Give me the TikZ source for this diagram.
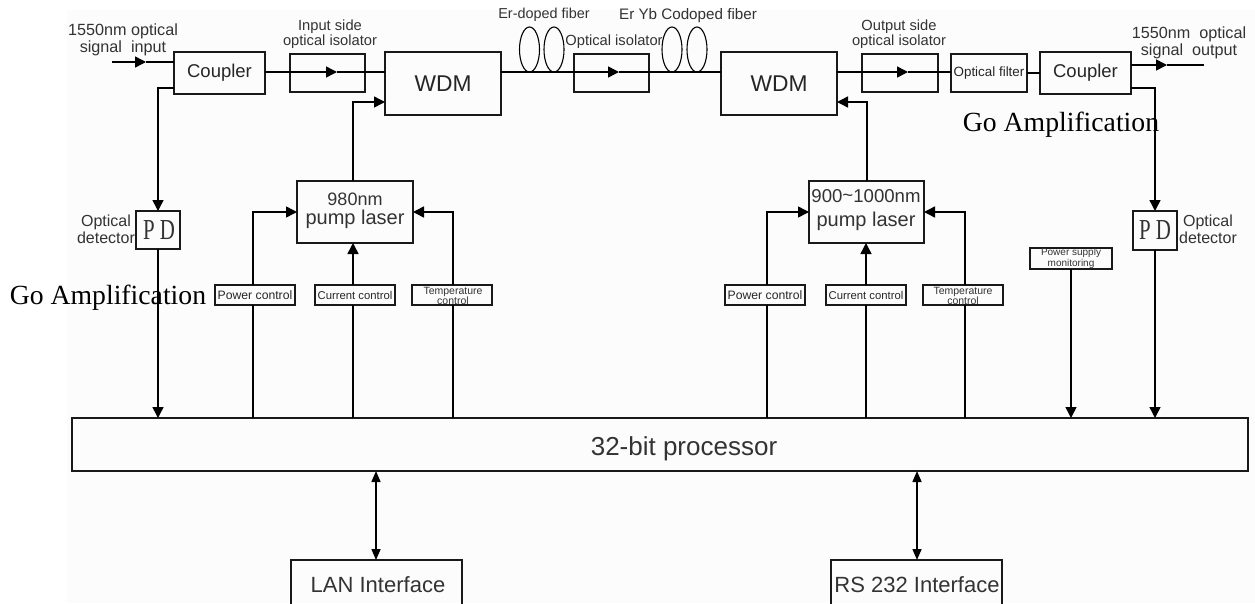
\documentclass[tikz,border=0pt]{standalone}
\usepackage{fontspec}
\setmainfont{Liberation Sans}
\newfontfamily\serifF{Liberation Serif}
\usetikzlibrary{arrows.meta,shapes.geometric}
\newcommand\sz[2]{\fontsize{#1}{#2}\selectfont}
\tikzset{
  box/.style={draw=black!90,line width=1.5pt,inner sep=0pt,outer sep=0pt,align=center,text=black!85},
  lab/.style={inner sep=0pt,outer sep=0pt,align=center,text=black!80},
  link/.style={draw=black,line width=1.5pt},
  arr/.style={link,-{Triangle[length=11pt,width=11pt]}},
  darr/.style={link,{Triangle[length=11pt,width=9pt]}-{Triangle[length=11pt,width=9pt]}},
  fib/.style={draw=black,line width=1.1pt,ellipse,minimum width=20pt,minimum height=45pt,inner sep=0pt},
  goamp/.style={inner sep=0pt,outer sep=0pt,font=\serifF\sz{27.7}{30},text=black},
}
% name, x1, y1, x2, y2, font size, text
\newcommand\bx[7]{%
  \pgfmathsetmacro\bw{#4-#2}\pgfmathsetmacro\bh{#5-#3}%
  \pgfmathsetmacro\bcx{(#2+#4)/2}\pgfmathsetmacro\bcy{(#3+#5)/2}%
  \node[box,minimum width=\bw pt,minimum height=\bh pt,font=\sz{#6}{#6}] (#1) at (\bcx,\bcy) {#7};}
\begin{document}
\begin{tikzpicture}[x=1pt,y=-1pt]
\useasboundingbox (0,0) rectangle (1255,603);
\clip (0,0) rectangle (1255,603);
\fill[white] (0,0) rectangle (1255,603);
\fill[black!1] (67,10) rectangle (1255,603);
% boxes
\bx{coupA}{174}{52}{265}{94}{18.5}{Coupler}
\bx{isoA}{290}{54}{365}{92}{10}{}
\bx{wdmA}{385}{52}{501}{115}{22.8}{WDM}
\bx{isoB}{574}{54}{649}{92}{10}{}
\bx{wdmB}{721}{52}{837}{115}{22.8}{WDM}
\bx{isoC}{862}{54}{938}{92}{10}{}
\bx{filt}{951}{54}{1027}{92}{13.4}{Optical filter}
\bx{coupB}{1040}{52}{1131}{94}{18.5}{Coupler}
\bx{pdA}{136}{211}{180}{249}{10}{}
\bx{pdB}{1133}{211}{1177}{250}{10}{}
\bx{pumpA}{297}{181}{413}{243}{20}{}
\bx{pumpB}{809}{181}{924}{243}{20}{}
\bx{pwrA}{215}{285}{295}{305}{12.2}{Power control}
\bx{curA}{315}{285}{395}{305}{11.3}{Current control}
\bx{tmpA}{412}{285}{492}{305}{10}{}
\bx{pwrB}{725}{285}{805}{305}{12.2}{Power control}
\bx{curB}{826}{285}{906}{305}{11.3}{Current control}
\bx{tmpB}{923}{285}{1003}{305}{10}{}
\bx{mon}{1030}{248}{1112}{269}{10}{}
\bx{cpu}{72}{418}{1248}{471}{10}{}
\bx{lan}{291}{560}{462}{610}{10}{}
\bx{rs}{831}{560}{1002}{610}{10}{}
% labels
\node[lab,font=\sz{26}{28}] (tCpu) at (684,449) {32-bit processor};
\node[lab,font=\sz{16.2}{17}] (tIn) at (123,40) {1550nm optical\\signal\ \ input};
\node[lab,font=\sz{14.7}{15}] (tIsoA) at (330,34) {Input side\\optical isolator};
\node[lab,font=\sz{14.4}{15}] (tEr) at (544,15) {Er-doped fiber};
\node[lab,font=\sz{15.2}{16}] (tYb) at (688,16) {Er Yb Codoped fiber};
\node[lab,font=\sz{14.7}{15}] (tIsoB) at (614,42) {Optical isolator};
\node[lab,font=\sz{14.7}{15}] (tIsoC) at (899,34) {Output side\\optical isolator};
\node[lab,font=\sz{16.2}{17}] (tOut) at (1189,43) {1550nm\ \ optical\\signal\ \ output};
\node[lab,font=\sz{16}{17}] (tDetA) at (106,229) {Optical\\detector};
\node[lab,font=\sz{16}{17}] (tDetB) at (1208,229) {Optical\\detector};
\node[lab,font=\sz{20}{18.5}] (tPumpA) at (355,211) {{\sz{18}{18.5}980nm}\\pump laser};
\node[lab,font=\sz{18.6}{24}] (tPumpB) at (866,210) {900\raisebox{1pt}{\textasciitilde}1000nm\\{\sz{20}{24}pump laser}};
\node[lab,font=\sz{10.5}{10.5}] (tTmpA) at (453,296) {Temperature\\control};
\node[lab,font=\sz{10.5}{10.5}] (tTmpB) at (963,296) {Temperature\\control};
\node[lab,font=\sz{10}{11}] (tMon) at (1071,258.5) {Power supply\\monitoring};
\node[lab,font=\serifF\sz{29}{30},xscale=.72] (tPdA) at (159,230) {P D};
\node[lab,font=\serifF\sz{29}{30},xscale=.72] (tPdB) at (1155,230) {P D};
\node[lab,font=\sz{22}{24}] (tLan) at (378,585) {LAN Interface};
\node[lab,font=\sz{22}{24}] (tRs) at (917,585) {RS 232 Interface};
% fibers
\node[fib] (fA) at (529.5,49.5) {};
\node[fib] (fB) at (554,49.5) {};
\node[fib] (fC) at (672,49.5) {};
\node[fib] (fD) at (697,49.5) {};
% connector points
\coordinate (inS) at (112,62);
\coordinate (inM) at (146,62);
\coordinate (inE) at (174,62);
\coordinate (a1) at (265,72);
\coordinate (a2) at (337,72);
\coordinate (a3) at (385,72);
\coordinate (b1) at (501,72);
\coordinate (b2) at (619,72);
\coordinate (b3) at (721,72);
\coordinate (c1) at (837,72);
\coordinate (c2) at (908,72);
\coordinate (c3) at (951,72);
\coordinate (outS) at (1131,65);
\coordinate (outM) at (1167,65);
\coordinate (outE) at (1204,65);
\coordinate (tapA) at (174,88);
\coordinate (tapB) at (1131,88);
\coordinate (wA) at (385,102);
\coordinate (wB) at (837,102);
% connectors
\draw[link] (inM) -- (inE);
\draw[arr] (inS) -- (inM);
\draw[link] (a2) -- (a3);
\draw[arr] (a1) -- (a2);
\draw[link] (b2) -- (b3);
\draw[arr] (b1) -- (b2);
\draw[link] (c2) -- (c3);
\draw[arr] (c1) -- (c2);
\draw[link] (filt.east) -- (filt.east -| coupB.west);
\draw[link] (outM) -- (outE);
\draw[arr] (outS) -- (outM);
\draw[arr] (tapA) -| (pdA.north);
\draw[arr] (tapB) -| (pdB.north);
\draw[arr] (pdA.south) -- (pdA.south |- cpu.north);
\draw[arr] (pdB.south) -- (pdB.south |- cpu.north);
\draw[arr] (353,181) |- (wA);
\draw[arr] (867,181) |- (wB);
\draw[arr] (253,285) |- (pumpA.west |- 0,212);
\draw[arr] (353,285) -- (353,243);
\draw[arr] (453,285) |- (pumpA.east |- 0,212);
\draw[arr] (767,285) |- (pumpB.west |- 0,212);
\draw[arr] (866,285) -- (866,243);
\draw[arr] (965,285) |- (pumpB.east |- 0,212);
\draw[link] (253,305) -- (253,418);
\draw[link] (353,305) -- (353,418);
\draw[link] (453,305) -- (453,418);
\draw[link] (767,305) -- (767,418);
\draw[link] (866,305) -- (866,418);
\draw[link] (965,305) -- (965,418);
\draw[arr] (mon.south) -- (mon.south |- cpu.north);
\draw[darr] (376,471) -- (376,560);
\draw[darr] (917,471) -- (917,560);
% overprinted captions
\node[goamp] (gA) at (108,298) {Go Amplification};
\node[goamp] (gB) at (1061,125) {Go Amplification};
\end{tikzpicture}
\end{document}
